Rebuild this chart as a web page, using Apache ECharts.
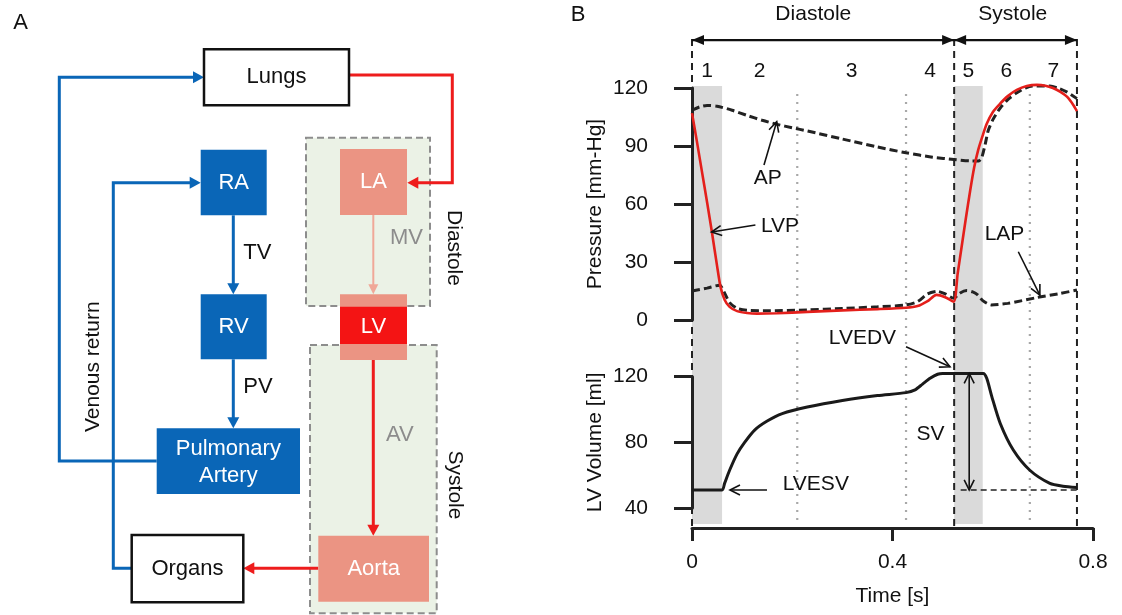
<!DOCTYPE html>
<html><head><meta charset="utf-8">
<script src="https://cdn.jsdelivr.net/npm/echarts/dist/echarts.min.js"></script>
<style>html,body{margin:0;padding:0;background:#fff}#c{width:1122px;height:615px}</style>
</head><body><div id="c"></div><script>
// ---------- DATA (panel B) ----------
const timeTicks = [0, 0.4, 0.8];
const pressureTicks = [0, 30, 60, 90, 120];
const volumeTicks = [40, 80, 120];
// phase boundaries [s]
const phaseBounds = [0, 0.06, 0.21, 0.427, 0.523, 0.58, 0.674, 0.768];
const phaseNames = ['1', '2', '3', '4', '5', '6', '7'];
const cycleNames = ['Diastole', 'Systole'];
const cycleBounds = [0, 0.523, 0.768];
const cycleLabelTime = [0.242, 0.640];
const shadedPhases = [0, 4];          // isovolumic phases 1 and 5
const dottedBounds = [0.21, 0.427, 0.674];
// left ventricular pressure [t, mmHg]
const lvp = [[0,107],[0.01,92],[0.02,76.5],[0.03,61],[0.04,45],[0.05,28],[0.057,17],[0.065,10.5],[0.075,6.8],[0.09,4.6],[0.11,3.6],[0.13,3.3],[0.17,3.5],[0.23,4.2],[0.3,5],[0.37,5.6],[0.427,6.3],[0.45,7.2],[0.47,9.8],[0.488,13],[0.505,11.8],[0.522,9.5],[0.53,24],[0.538,38],[0.546,52],[0.555,67],[0.563,79],[0.571,88],[0.58,95.5],[0.588,101.5],[0.6,107.5],[0.615,112],[0.63,115.8],[0.648,119],[0.668,121],[0.688,121.6],[0.705,121.2],[0.72,120],[0.735,118],[0.748,115.5],[0.76,111.5],[0.768,108]];
// aortic pressure
const ap = [[0,108.5],[0.015,110.2],[0.03,111],[0.05,110.6],[0.08,108.5],[0.11,105.8],[0.14,103.3],[0.17,101.2],[0.2,99.4],[0.23,97.8],[0.3,93.6],[0.37,89.5],[0.427,86.5],[0.48,84.2],[0.523,83],[0.555,82.3],[0.572,82.3],[0.578,84],[0.585,91],[0.591,98],[0.6,103.5],[0.6145,109.5],[0.63,114],[0.648,117.5],[0.665,120],[0.68,121],[0.714,121],[0.73,120],[0.7475,118],[0.768,114.5]];
// left atrial pressure
const lap = [[0,15],[0.03,16.5],[0.055,18],[0.065,14],[0.075,9],[0.09,6],[0.11,5],[0.15,4.8],[0.23,5.2],[0.3,6],[0.37,6.8],[0.427,7.8],[0.45,9.5],[0.47,13.5],[0.49,14.8],[0.505,13.5],[0.522,11.2],[0.535,14],[0.548,15.2],[0.56,14.5],[0.57,13],[0.58,10],[0.597,7.8],[0.63,8.6],[0.69,11.7],[0.73,13.5],[0.768,15.5]];
// left ventricular volume [t, ml]
const lvVolume = [[0,51],[0.06,51],[0.065,55],[0.075,63],[0.09,73],[0.105,80],[0.125,87.5],[0.15,93],[0.18,97.5],[0.23,101.5],[0.3,105.5],[0.37,108.5],[0.427,110.3],[0.445,112],[0.46,115.5],[0.475,119],[0.49,121.5],[0.5,122],[0.581,122],[0.588,119],[0.598,108],[0.615,91.5],[0.641,75.3],[0.674,63],[0.714,55],[0.74,53.3],[0.768,52.5]];
const esv = 51, edv = 122;
// annotations (text anchor / arrow in data units)
const pressureNotes = [
  {text:'AP',  at:[0.151, 73.5],  from:[0.1436, 80.2], to:[0.169, 102.6]},
  {text:'LVP', at:[0.1756, 48.6], from:[0.1265, 49.1], to:[0.039, 45.5]},
  {text:'LAP', at:[0.6235, 44.5], from:[0.651, 35.3],  to:[0.694, 12.9]}
];
const volumeNotes = [
  {text:'LVEDV', at:[0.34, 143.4],  from:[0.427, 138.3], to:[0.5147, 126.1]},
  {text:'LVESV', at:[0.247, 54.6],  from:[0.1496, esv],  to:[0.0758, esv]},
  {text:'SV',    at:[0.476, 84.9]}
];
const svTime = 0.553;
const esvLineStart = 0.536;

// ---------- STYLE ----------
const FONT = '"Liberation Sans", Arial, Helvetica, sans-serif';
const BLUE = '#0a66b7', SALMON = '#eb9483', RED = '#ee1c1c', LVRED = '#f41414', GREEN = '#ebf2e6', DG = '#8d8d8d', GT = '#8c8c8c';
const INK = '#111';

// overlay vertical positions (fraction of overlay height)
const OV = {header:1.0, arrow:0.949, dashTop:0.953, num:0.8887, bandTop:0.8594, bandBot:0.0039, dotTop:0.8555, dotBot:0.0117};

function head(tip, from, kind, color, lw) {
  const dx = tip[0]-from[0], dy = tip[1]-from[1], L = Math.hypot(dx,dy)||1, ux = dx/L, uy = dy/L;
  const len = kind==='filled' ? 12 : 10, half = 5;
  const bx = tip[0]-ux*len, by = tip[1]-uy*len, px = -uy*half, py = ux*half;
  const pts = [[bx+px,by+py],[tip[0],tip[1]],[bx-px,by-py]];
  if (kind==='filled') return {type:'polygon', shape:{points:pts}, style:{fill:color}};
  return {type:'polyline', shape:{points:pts}, style:{stroke:color, lineWidth:lw, fill:null}};
}
function segSeries(ax, segs, z) {
  return {type:'custom', xAxisIndex:ax, yAxisIndex:ax, z:z, silent:true, clip:false, animation:false,
    data: segs.map(s=>[s.from[0], s.from[1], s.to[0], s.to[1]]), encode:{x:[0,2], y:[1,3]},
    renderItem:(p, api)=>{
      const s = segs[p.dataIndex];
      const a = api.coord([api.value(0), api.value(1)]), b = api.coord([api.value(2), api.value(3)]);
      const color = s.color||INK, lw = s.width||1.6;
      const ch = [{type:'line', shape:{x1:a[0],y1:a[1],x2:b[0],y2:b[1]}, style:{stroke:color, lineWidth:lw, lineDash:s.dash||null}}];
      if (s.head==='end' || s.head==='both') ch.push(head(b, a, s.kind, color, lw));
      if (s.head==='both') ch.push(head(a, b, s.kind, color, lw));
      return {type:'group', children:ch};
    }};
}
function textSeries(ax, items, z) {
  return {type:'custom', xAxisIndex:ax, yAxisIndex:ax, z:z, silent:true, clip:false, animation:false,
    data: items.map(it=>[it.at[0], it.at[1]]), encode:{x:0, y:1},
    renderItem:(p, api)=>{
      const c = api.coord([api.value(0), api.value(1)]), it = items[p.dataIndex];
      return {type:'text', x:c[0], y:c[1], style:{text:it.text, fill:INK, font:'21px '+FONT,
        align:'center', verticalAlign:'middle', textAlign:'center', textVerticalAlign:'middle'}};
    }};
}

// ---------- PANEL A (diagram) ----------
function tri(x, y, dir, color, len, half) {
  len = len||11; half = half||6;
  const d = {r:[1,0], l:[-1,0], d:[0,1], u:[0,-1]}[dir];
  const bx = x-d[0]*len, by = y-d[1]*len, px = -d[1]*half, py = d[0]*half;
  return {type:'polygon', shape:{points:[[x,y],[bx+px,by+py],[bx-px,by-py]]}, style:{fill:color}};
}
function pl(points, color, w) { return {type:'polyline', shape:{points}, style:{stroke:color, lineWidth:w||3, fill:null}}; }
function box(x, y, w, h, fill, stroke) { return {type:'rect', shape:{x,y,width:w,height:h}, style:{fill, stroke:stroke||null, lineWidth:stroke?2.5:0}}; }
function txt(s, x, y, color, opt) {
  opt = opt||{};
  return {type:'text', x, y, rotation:opt.rot||0, style:{text:s, fill:color, font:(opt.size||22)+'px '+FONT,
    align:opt.align||'center', verticalAlign:'middle', textAlign:opt.align||'center', textVerticalAlign:'middle'}};
}
const diagram = [
  {type:'rect', shape:{x:306,y:137.7,width:124,height:168.3}, style:{fill:GREEN, stroke:DG, lineWidth:2, lineDash:[7,4]}},
  {type:'rect', shape:{x:310,y:345,width:126.7,height:268.3}, style:{fill:GREEN, stroke:DG, lineWidth:2, lineDash:[7,4]}},
  pl([[156.7,461],[59.3,461],[59.3,77.3],[194,77.3]], BLUE), tri(204,77.3,'r',BLUE),
  pl([[131.7,568.3],[113.3,568.3],[113.3,182.7],[191,182.7]], BLUE), tri(200.7,182.7,'r',BLUE),
  pl([[349,75],[452.3,75],[452.3,182.7],[417,182.7]], RED), tri(407.3,182.7,'l',RED),
  pl([[233.3,215.3],[233.3,285]], BLUE), tri(233.3,294.3,'d',BLUE),
  pl([[233.3,359.3],[233.3,419]], BLUE), tri(233.3,428.3,'d',BLUE),
  pl([[373.3,215],[373.3,286]], '#f0a898', 2), tri(373.3,294.3,'d','#f0a898',10,5),
  pl([[373.3,360],[373.3,526]], RED), tri(373.3,535.7,'d',RED),
  pl([[318.3,568.3],[253,568.3]], RED), tri(243.3,568.3,'l',RED),
  box(204,49.3,145,56,'#fff',INK),
  box(200.7,149.7,66,65.6,BLUE), box(200.7,294.3,66,65,BLUE), box(156.7,428.3,143.3,65.7,BLUE),
  box(340,149,67,66,SALMON), box(340,294.3,67,65.7,SALMON), box(340,306.7,67,37.3,LVRED),
  box(318.3,535.7,110.7,66,SALMON), box(131.7,535,111.6,67.3,'#fff',INK),
  txt('Lungs',276.5,77.3,INK), txt('RA',233.7,182.5,'#fff'), txt('RV',233.7,326.8,'#fff'),
  txt('Pulmonary',228.3,449,'#fff'), txt('Artery',228.3,475.7,'#fff'),
  txt('LA',373.5,182,'#fff'), txt('LV',373.5,326.7,'#fff'), txt('Aorta',373.7,569.3,'#fff'), txt('Organs',187.5,569,INK),
  txt('TV',243.3,253.3,INK,{align:'left'}), txt('PV',243.3,386.7,INK,{align:'left'}),
  txt('MV',390,237.7,GT,{align:'left'}), txt('AV',386,435,GT,{align:'left'}),
  txt('Diastole',454,248,INK,{rot:-Math.PI/2, size:21}), txt('Systole',455,485,INK,{rot:-Math.PI/2, size:21}),
  txt('Venous return',93.5,366.7,INK,{rot:Math.PI/2, size:21}),
  txt('A',20.7,22.7,INK), txt('B',578,15,INK)
];

// ---------- PANEL B ----------
const axisLbl = {fontSize:21, color:INK, fontFamily:FONT};
const overlaySegs = [];
cycleBounds.forEach(t=>overlaySegs.push({from:[t,0], to:[t,OV.dashTop], head:'none', width:2, dash:[7,5], color:'#222'}));
dottedBounds.forEach(t=>overlaySegs.push({from:[t,OV.dotBot], to:[t,OV.dotTop], head:'none', width:2.2, dash:[2,6], color:'#a8a8a8'}));
for (let i=0;i<cycleNames.length;i++) overlaySegs.push({from:[cycleBounds[i],OV.arrow], to:[cycleBounds[i+1],OV.arrow], head:'both', kind:'filled', width:2.2, color:INK});
const overlayTexts = phaseNames.map((n,i)=>({text:n, at:[(phaseBounds[i]+phaseBounds[i+1])/2, OV.num]}))
  .concat(cycleNames.map((n,i)=>({text:n, at:[cycleLabelTime[i], OV.header]})));

const pSegs = pressureNotes.map(n=>({from:n.from, to:n.to, head:'end', kind:'open', width:1.6}));
const vSegs = volumeNotes.filter(n=>n.from).map(n=>({from:n.from, to:n.to, head:'end', kind:'open', width:1.6}));
vSegs.push({from:[svTime, edv], to:[svTime, esv], head:'both', kind:'open', width:1.6});
vSegs.push({from:[esvLineStart, esv], to:[cycleBounds[2], esv], head:'none', width:1.6, dash:[6,4], color:'#222'});

const lineBase = {type:'line', showSymbol:false, symbol:'none', smooth:0.25, clip:false, animation:false, silent:true, z:4};

const option = {
  animation:false,
  graphic:{elements:diagram},
  grid:[
    {left:692, top:88, width:401, height:232, outerBoundsMode:'none', containLabel:false},
    {left:692, top:376.7, width:401, height:131.3, outerBoundsMode:'none', containLabel:false},
    {left:692, top:14, width:401, height:512, outerBoundsMode:'none', containLabel:false}
  ],
  xAxis:[
    {gridIndex:0, type:'value', min:0, max:0.8, show:false},
    {gridIndex:1, type:'value', min:timeTicks[0], max:timeTicks[2], interval:timeTicks[1]-timeTicks[0], position:'bottom', offset:20,
      name:'Time [s]', nameLocation:'middle', nameGap:58, nameTextStyle:axisLbl,
      axisLine:{onZero:false, lineStyle:{color:'#222', width:3}}, axisTick:{length:13, lineStyle:{color:'#222', width:3}},
      axisLabel:Object.assign({margin:24}, axisLbl), splitLine:{show:false}},
    {gridIndex:2, type:'value', min:0, max:0.8, show:false}
  ],
  yAxis:[
    {gridIndex:0, type:'value', min:pressureTicks[0], max:pressureTicks[4], interval:pressureTicks[1]-pressureTicks[0], offset:14,
      name:'Pressure [mm-Hg]', nameLocation:'middle', nameGap:72, nameTextStyle:axisLbl,
      axisLine:{show:true, lineStyle:{color:'#222', width:3}}, axisTick:{show:true, length:18, lineStyle:{color:'#222', width:3}},
      axisLabel:Object.assign({margin:30}, axisLbl), splitLine:{show:false}},
    {gridIndex:1, type:'value', min:volumeTicks[0], max:volumeTicks[2], interval:volumeTicks[1]-volumeTicks[0], offset:14,
      name:'LV Volume [ml]', nameLocation:'middle', nameGap:72, nameTextStyle:axisLbl,
      axisLine:{show:true, lineStyle:{color:'#222', width:3}}, axisTick:{show:true, length:18, lineStyle:{color:'#222', width:3}},
      axisLabel:Object.assign({margin:30}, axisLbl), splitLine:{show:false}},
    {gridIndex:2, type:'value', min:0, max:1, show:false}
  ],
  series:[
    {type:'custom', xAxisIndex:2, yAxisIndex:2, z:0, silent:true, clip:false, animation:false,
      data: shadedPhases.map(i=>[phaseBounds[i], phaseBounds[i+1]]), encode:{x:[0,1]},
      renderItem:(p, api)=>{
        const a = api.coord([api.value(0), OV.bandTop]), b = api.coord([api.value(1), OV.bandBot]);
        return {type:'rect', shape:{x:a[0], y:a[1], width:b[0]-a[0], height:b[1]-a[1]}, style:{fill:'#dadada'}};
      }},
    segSeries(2, overlaySegs, 1),
    textSeries(2, overlayTexts, 2),
    Object.assign({}, lineBase, {name:'AP', xAxisIndex:0, yAxisIndex:0, data:ap, lineStyle:{color:'#222', width:3, type:[8,4]}}),
    Object.assign({}, lineBase, {name:'LAP', xAxisIndex:0, yAxisIndex:0, data:lap, lineStyle:{color:'#222', width:3, type:[8,4]}}),
    Object.assign({}, lineBase, {name:'LVP', xAxisIndex:0, yAxisIndex:0, data:lvp, z:5, lineStyle:{color:'#e41f1b', width:2.6}}),
    Object.assign({}, lineBase, {name:'LV Volume', xAxisIndex:1, yAxisIndex:1, data:lvVolume, lineStyle:{color:'#1a1a1a', width:3}}),
    segSeries(0, pSegs, 6), textSeries(0, pressureNotes, 6),
    segSeries(1, vSegs, 6), textSeries(1, volumeNotes, 6)
  ]
};
const chart = echarts.init(document.getElementById('c'), null, {renderer:'canvas'});
chart.setOption(option);
</script></body></html>
